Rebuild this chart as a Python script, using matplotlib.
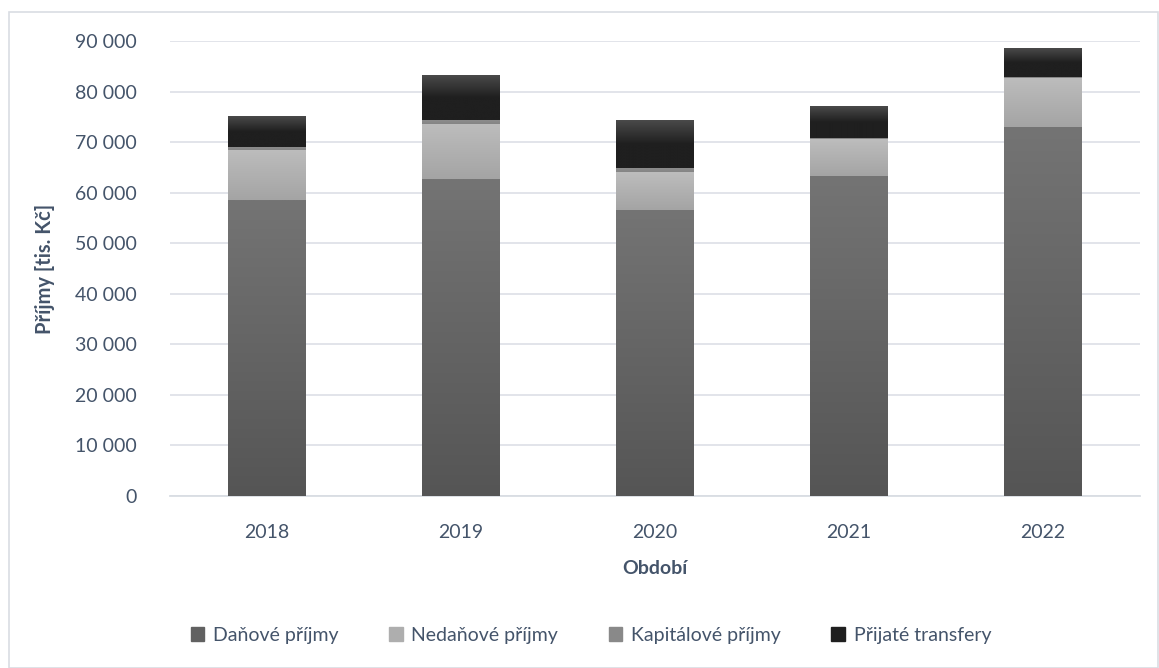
import numpy as np
import matplotlib.pyplot as plt
from matplotlib.colors import LinearSegmentedColormap
from matplotlib.patches import Rectangle
from matplotlib.ticker import FuncFormatter

plt.rcParams['font.family'] = ['Lato', 'DejaVu Sans']

# data (tis. Kč)
roky = ['2018', '2019', '2020', '2021', '2022']
danove = [58500, 62700, 56600, 63300, 73000]
nedanove = [9900, 10900, 7500, 7300, 9700]
kapitalove = [700, 800, 800, 200, 200]
transfery = [6100, 8900, 9300, 6300, 5700]

serie = [
    ('Daňové příjmy', danove, ('#555555', '#747474')),
    ('Nedaňové příjmy', nedanove, ('#a4a4a4', '#bdbdbd')),
    ('Kapitálové příjmy', kapitalove, ('#858585', '#8e8e8e')),
    ('Přijaté transfery', transfery, ('#1f1f1f', '#1f1f1f', '#4a4a4a')),
]
txt = '#44546a'
fs = 14

fig = plt.figure(figsize=(11.59, 6.68), dpi=100)
ax = fig.add_axes([170 / 1159, 1 - 496 / 668, 970 / 1159, 455 / 668])

# outer frame
fig.patches.append(Rectangle((9 / 1159, 0), 1 - 9 / 1159 - 0.0005, 1 - 12 / 668,
                             transform=fig.transFigure, fill=False,
                             edgecolor='#d9dde3', linewidth=1.2))

x = np.arange(len(roky))
spodek = np.zeros(len(roky))
handles = []
for nazev, hodnoty, barvy in serie:
    bars = ax.bar(x, hodnoty, width=0.4, bottom=spodek, color=barvy[-1],
                  linewidth=0, zorder=2, label=nazev)
    cmap = LinearSegmentedColormap.from_list(nazev, barvy)
    grad = np.linspace(0, 1, 256).reshape(-1, 1)
    for p in bars.patches:
        x0, y0 = p.get_x(), p.get_y()
        ax.imshow(grad, cmap=cmap, origin='lower', aspect='auto', zorder=3,
                  extent=(x0, x0 + p.get_width(), y0, y0 + p.get_height()))
    handles.append(Rectangle((0, 0), 1, 1, color=cmap(0.4)))
    spodek += np.array(hodnoty)

ax.set_xlim(-0.5, len(roky) - 0.5)
ax.set_ylim(0, 90000)
ax.set_yticks(np.arange(0, 90001, 10000))
ax.yaxis.set_major_formatter(FuncFormatter(lambda v, _: f'{int(v):,}'.replace(',', ' ')))
ax.set_xticks(x)
ax.set_xticklabels(roky)
ax.grid(axis='y', color='#dfe2e8', linewidth=1.3, zorder=0)
ax.set_axisbelow(True)
for s in ['top', 'right', 'left']:
    ax.spines[s].set_visible(False)
ax.spines['bottom'].set_color('#d9dde3')
ax.spines['bottom'].set_linewidth(1.3)
ax.tick_params(length=0, labelsize=fs, labelcolor=txt)
ax.tick_params(axis='y', pad=24)
ax.tick_params(axis='x', pad=20)

ax.set_ylabel('Příjmy [tis. Kč]', fontsize=fs + 0.5, fontweight='bold', color=txt, labelpad=14)
ax.set_xlabel('Období', fontsize=fs, fontweight='bold', color=txt, labelpad=14)

fig.legend(handles, [s[0] for s in serie], loc='center', bbox_to_anchor=(591 / 1159, 1 - 635 / 668),
           ncol=4, frameon=False, fontsize=fs, labelcolor=txt, handlelength=0.7,
           handleheight=0.7, handletextpad=0.45, columnspacing=2.6)

plt.savefig('out.png', dpi=100)
